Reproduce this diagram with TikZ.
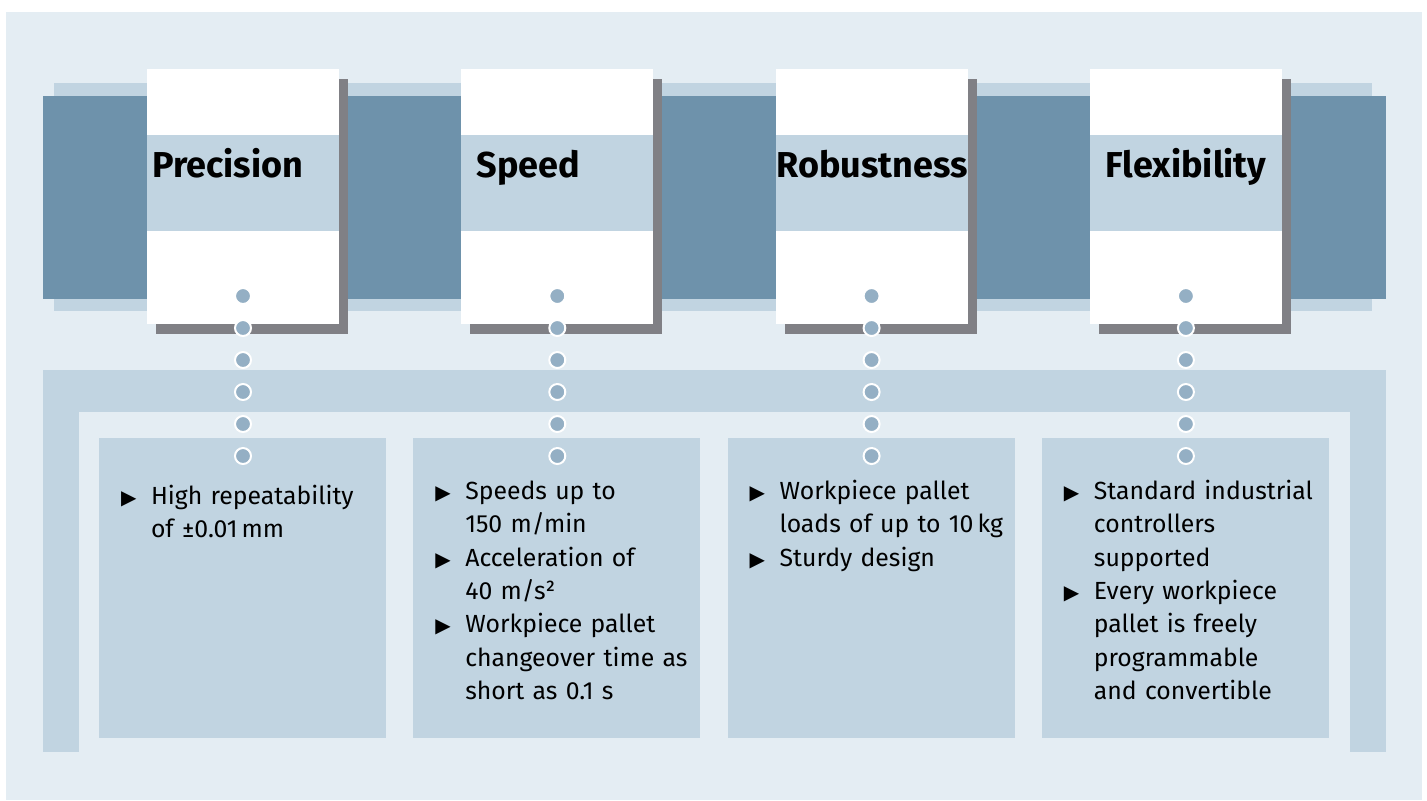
\documentclass[tikz,border=0pt]{standalone}
\usepackage{fontspec}
\setmainfont{Fira Sans}
\newfontfamily\bulfont{DejaVu Sans}
\usetikzlibrary{positioning, shadows}

\definecolor{bgblue}{HTML}{E4EDF3}
\definecolor{lightblue}{HTML}{C1D4E1}
\definecolor{darkblue}{HTML}{6E92AB}
\definecolor{shadowgray}{HTML}{808085}
\definecolor{dotblue}{HTML}{94AFC4}

\newcommand\bul[1]{\par\leftskip=15pt\noindent\strut%
    \llap{\makebox[15pt][l]{\bulfont\fontsize{10}{10}\selectfont ▶}}#1\par}

\begin{document}
\begin{tikzpicture}[x=0.5pt, y=-0.5pt,
    card/.style = {fill=white, inner sep=0pt,
                    minimum width=96pt, minimum height=127.5pt,
                    drop shadow={shadow xshift=4.5pt, shadow yshift=-5pt,
                                 fill=shadowgray, opacity=1}},
    band/.style = {fill=lightblue, inner sep=0pt,
                    minimum width=96pt, minimum height=48pt},
    title/.style = {inner sep=0pt, font=\fontsize{18}{22}\selectfont\bfseries},
    box/.style = {fill=lightblue, inner sep=0pt,
                    minimum width=143.5pt, minimum height=150pt},
    txt/.style = {inner sep=0pt, text width=135pt, align=left,
                    font=\fontsize{12.4}{16.65}\selectfont},
    dot/.style = {circle, fill=dotblue, draw=white, line width=1pt,
                    minimum size=8pt, inner sep=0pt}]
%---
\useasboundingbox (0,0) rectangle (1427,800);
\fill[bgblue] (6,12) rectangle (1422,800);
% upper frame
\fill[lightblue] (54,83) rectangle (1372,311);
\fill[darkblue]  (43,96) rectangle (1386,299);
% lower frame
\fill[lightblue] (43,370) rectangle (1386,752);
\fill[bgblue]    (79,412) rectangle (1350,752);
% cards
\node (c1) [card] at (243,196.5)        {};
\node (c2) [card,right=60.75pt of c1]   {};
\node (c3) [card,right=60.75pt of c2]   {};
\node (c4) [card,right=60.75pt of c3]   {};
\node (h1) [band,below=33pt of c1.north] {};
\node (h2) [band,below=33pt of c2.north] {};
\node (h3) [band,below=33pt of c3.north] {};
\node (h4) [band,below=33pt of c4.north] {};
% titles
\node (t1) [title,anchor=base west] at (152,177)  {Precision};
\node (t2) [title,anchor=base west] at (476,177)  {Speed};
\node (t3) [title,anchor=base]      at (872,177)  {Robustness};
\node (t4) [title,anchor=base]      at (1186,177) {Flexibility};
% boxes
\node (b1) [box] at (242.5,588)         {};
\node (b2) [box,right=13.25pt of b1]    {};
\node (b3) [box,right=13.25pt of b2]    {};
\node (b4) [box,right=13.25pt of b3]    {};
% texts
\node (x1) [txt,below right=16.6pt and 11pt of b1.north west]
    {\bul{High repeatability\\ of ±0.01\,mm}};
\node (x2) [txt,below right=14.1pt and 11pt of b2.north west]
    {\bul{Speeds up to\\ 150 m/min}
     \bul{Acceleration of\\ 40 m/s²}
     \bul{Workpiece pallet\\ changeover time as\\ short as 0.1 s}};
\node (x3) [txt,below right=14.1pt and 11pt of b3.north west]
    {\bul{Workpiece pallet\\ loads of up to 10\,kg}
     \bul{Sturdy design}};
\node (x4) [txt,below right=14.1pt and 11pt of b4.north west]
    {\bul{Standard industrial\\ controllers\\ supported}
     \bul{Every workpiece\\ pallet is freely\\ programmable\\ and convertible}};
% dots
\foreach \i in {1,...,4}
    \foreach \j in {0,...,5}
        \path (c\i.center) ++(0,99.5+32*\j) node (d\i-\j) [dot] {};
\end{tikzpicture}
\end{document}
